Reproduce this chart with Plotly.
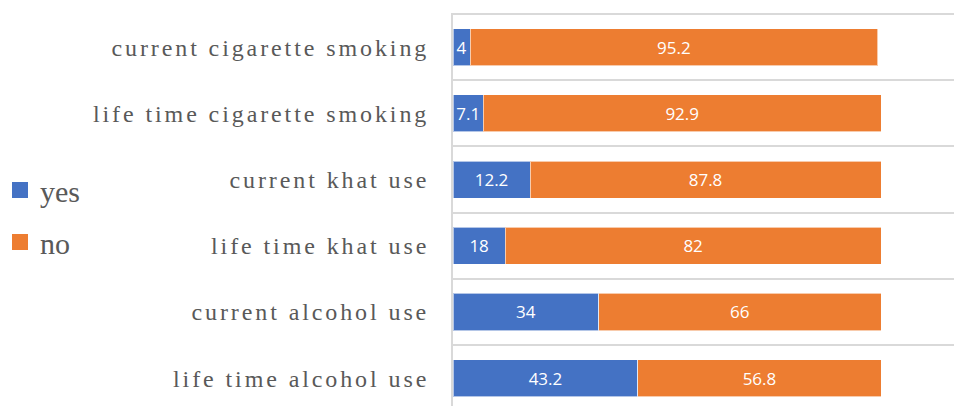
import plotly.graph_objects as go

categories = ["life time alcohol use", "current alcohol use", "life time khat use",
              "current khat use", "life time cigarette smoking", "current cigarette smoking"]
# bar lengths as drawn in the reference
yes_values = [43.2, 34, 12.2, 18, 7.1, 4]
no_values = [56.8, 66, 87.8, 82, 92.9, 95.2]
# data labels as printed in the reference
yes_labels = ["43.2", "34", "18", "12.2", "7.1", "4"]
no_labels = ["56.8", "66", "82", "87.8", "92.9", "95.2"]

BLUE = "#4472C4"
ORANGE = "#ED7D31"
GRID = "#D9D9D9"

fig = go.Figure()
for name, vals, labels, color, lg in [("yes", yes_values, yes_labels, BLUE, "legend"),
                                      ("no", no_values, no_labels, ORANGE, "legend2")]:
    fig.add_trace(go.Bar(
        y=categories, x=vals, orientation="h", name=name, showlegend=False,
        marker=dict(color=color, line=dict(color="rgba(255,255,255,0.6)", width=1)),
        text=labels, textposition="inside",
        insidetextanchor="middle", constraintext="none",
        textfont=dict(family="Open Sans", size=17, color="white"),
    ))
    # legend-only marker trace for a larger square key
    fig.add_trace(go.Scatter(
        x=[None], y=[None], mode="markers", name=name, legend=lg,
        marker=dict(symbol="square", size=16, color=color), showlegend=True,
    ))

legend_common = dict(
    xref="container", yref="container", xanchor="left", yanchor="middle",
    font=dict(family="Liberation Serif", size=30, color="#595959"),
    bgcolor="rgba(0,0,0,0)", itemsizing="trace",
)

fig.update_layout(
    width=954, height=406,
    barmode="stack", bargap=0.44,
    margin=dict(l=453, r=0, t=13, b=0, autoexpand=False),
    paper_bgcolor="white", plot_bgcolor="white",
    showlegend=True,
    legend=dict(x=0, y=1 - 190 / 406, **legend_common),
    legend2=dict(x=0, y=1 - 242 / 406, **legend_common),
    xaxis=dict(range=[0, 501 / 4.28], showgrid=False, zeroline=False,
               showline=False, showticklabels=False, fixedrange=True),
    yaxis=dict(range=[-0.42, 5.515], type="category", tickson="boundaries",
               showgrid=True, gridcolor=GRID, gridwidth=2,
               showline=True, linecolor=GRID, linewidth=2,
               ticks="", ticklabelstandoff=17,
               tickfont=dict(family="Liberation Serif", size=24, color="#595959")),
    shapes=[dict(type="line", xref="paper", yref="y", x0=0, x1=1,
                 y0=len(categories) - 0.5, y1=len(categories) - 0.5,
                 line=dict(color=GRID, width=2), layer="below")],
)

post = """
document.body.style.margin = '0';
function spaceLabels(){
  document.querySelectorAll('.ytick text').forEach(function(t){
    t.style.letterSpacing = '2.9px';
  });
}
spaceLabels();
var gd = document.getElementsByClassName('plotly-graph-div')[0];
if (gd && gd.on) { gd.on('plotly_afterplot', spaceLabels); }
"""

fig.write_html("out.html", post_script=post, config={"displayModeBar": False})
